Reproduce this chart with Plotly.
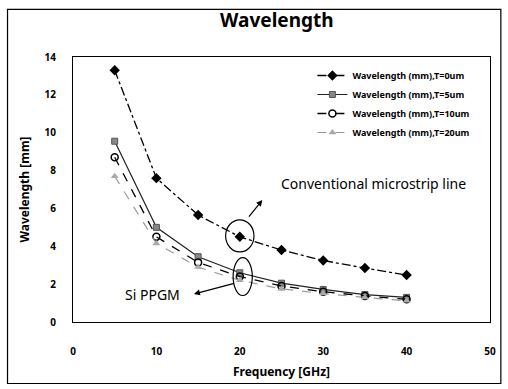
import plotly.graph_objects as go

freq = [5, 10, 15, 20, 25, 30, 35, 40]
wl_t0 = [13.3, 7.6, 5.65, 4.5, 3.8, 3.25, 2.85, 2.48]
wl_t5 = [9.55, 5.0, 3.45, 2.6, 2.05, 1.72, 1.45, 1.3]
wl_t10 = [8.7, 4.5, 3.15, 2.4, 1.9, 1.6, 1.38, 1.2]
wl_t20 = [7.7, 4.15, 2.9, 2.2, 1.75, 1.5, 1.3, 1.12]

names = ["Wavelength (mm),T=0um", "Wavelength (mm),T=5um",
         "Wavelength (mm),T=10um", "Wavelength (mm),T=20um"]

x_ticks = [0, 10, 20, 30, 40, 50]
y_ticks = [0, 2, 4, 6, 8, 10, 12, 14]

FONT = "Noto Sans"

fig = go.Figure()
fig.add_trace(go.Scatter(x=freq, y=wl_t0, name=names[0], mode="lines+markers",
                         line=dict(color="black", width=1.3, dash="dashdot"),
                         marker=dict(symbol="diamond", size=8, color="black")))
fig.add_trace(go.Scatter(x=freq, y=wl_t5, name=names[1], mode="lines+markers",
                         line=dict(color="#222222", width=1.2, dash="solid"),
                         marker=dict(symbol="square", size=6, color="#888888",
                                     line=dict(color="#555555", width=1))))
fig.add_trace(go.Scatter(x=freq, y=wl_t10, name=names[2], mode="lines+markers",
                         line=dict(color="black", width=1.3, dash="dash"),
                         marker=dict(symbol="circle-open", size=7, color="black",
                                     line=dict(width=1.5))))
fig.add_trace(go.Scatter(x=freq, y=wl_t20, name=names[3], mode="lines+markers",
                         line=dict(color="#999999", width=1.2, dash="dash"),
                         marker=dict(symbol="triangle-up", size=7, color="#aaaaaa")))

fig.update_layout(
    width=508, height=389,
    margin=dict(l=73, r=16, t=57, b=67),
    paper_bgcolor="white", plot_bgcolor="white",
    font=dict(family=FONT, color="black"),
    title=dict(text="<b>Wavelength</b>", x=0.545, xanchor="center", y=0.948, yanchor="middle",
               font=dict(size=19, family=FONT)),
    showlegend=True,
    legend=dict(x=0.965, y=0.985, xanchor="right", yanchor="top",
                bgcolor="white", borderwidth=0,
                font=dict(size=9, family=FONT, weight="bold"),
                tracegroupgap=0, itemwidth=30),
    xaxis=dict(range=[0, 50], tickvals=x_ticks, ticks="outside", ticklen=20,
               tickcolor="rgba(0,0,0,0)", showgrid=False, zeroline=False,
               showline=True, linecolor="black", linewidth=1.2, mirror=True,
               tickfont=dict(size=10, family=FONT, weight="bold"),
               title=dict(text="<b>Frequency [GHz]</b>", font=dict(size=12), standoff=10)),
    yaxis=dict(range=[0, 14], tickvals=y_ticks, ticks="outside", ticklen=14,
               tickcolor="rgba(0,0,0,0)", showgrid=False, zeroline=False,
               showline=True, linecolor="black", linewidth=1.2, mirror=True,
               tickfont=dict(size=10, family=FONT, weight="bold"),
               title=dict(text="<b>Wavelength [mm]</b>", font=dict(size=12), standoff=12)),
)

# ellipses
fig.add_shape(type="circle", xref="x", yref="y", x0=18.3, x1=21.7, y0=3.7, y1=5.4,
              line=dict(color="black", width=1.2))
fig.add_shape(type="circle", xref="x", yref="y", x0=19.2, x1=21.5, y0=1.4, y1=3.4,
              line=dict(color="black", width=1.2))
# outer frame
fig.add_shape(type="rect", xref="paper", yref="paper", x0=-0.157, x1=1.026, y0=-0.232, y1=1.18,
              line=dict(color="black", width=1.2))

fig.add_annotation(x=22.7, y=6.44, ax=20.95, ay=5.49, xref="x", yref="y", axref="x", ayref="y",
                   showarrow=True, arrowhead=2, arrowsize=1, arrowwidth=1.2, arrowcolor="black", text="")
fig.add_annotation(x=14.5, y=1.48, ax=19.5, ay=2.06, xref="x", yref="y", axref="x", ayref="y",
                   showarrow=True, arrowhead=2, arrowsize=1, arrowwidth=1.2, arrowcolor="black", text="")
fig.add_annotation(x=36.0, y=7.3, xref="x", yref="y", text="Conventional microstrip line",
                   showarrow=False, font=dict(size=14, family=FONT))
fig.add_annotation(x=9.5, y=1.45, xref="x", yref="y", text="Si PPGM",
                   showarrow=False, font=dict(size=14, family=FONT))

fig.write_html("out.html", config={"displayModeBar": False},
               post_script="document.body.style.margin='0px';document.body.style.overflow='hidden';")
